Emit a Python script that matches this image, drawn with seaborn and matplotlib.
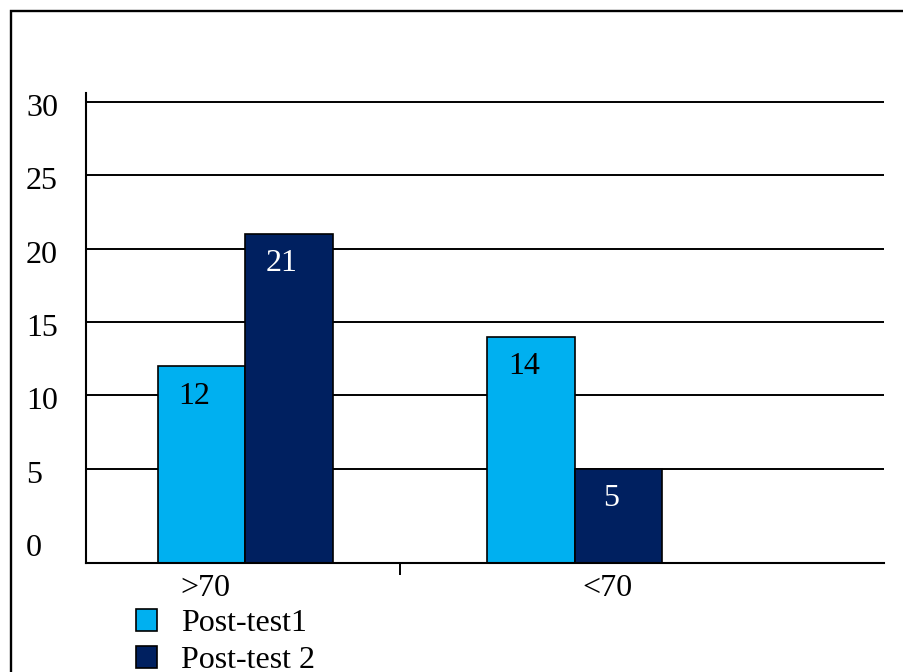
import matplotlib
matplotlib.use("Agg")
import matplotlib.pyplot as plt
from matplotlib.patches import Rectangle
from matplotlib.transforms import ScaledTranslation
import pandas as pd
import seaborn as sns

# Scores by group for the two post-tests
categories = [">70", "<70"]
series = ["Post-test1", "Post-test 2"]
post_test1 = [12, 14]
post_test2 = [21, 5]
y_ticks = [0, 5, 10, 15, 20, 25, 30]

colors = ["#00B0F0", "#002060"]
label_colors = ["black", "white"]

df = pd.DataFrame({
    "group": categories * 2,
    "test": [series[0]] * len(categories) + [series[1]] * len(categories),
    "score": post_test1 + post_test2,
})

sns.set_style("white")
plt.rcParams["font.family"] = ["Liberation Serif", "DejaVu Serif"]
plt.rcParams["font.size"] = 23
plt.rcParams["text.color"] = "black"
plt.rcParams["xtick.color"] = "black"
plt.rcParams["ytick.color"] = "black"
FS = 23

W, H, DPI = 904, 672, 100
fig = plt.figure(figsize=(W / DPI, H / DPI), dpi=DPI)
ax = fig.add_axes([86 / W, 1 - 563 / H, (884 - 86) / W, (563 - 93) / H])

sns.barplot(data=df, x="group", y="score", hue="test", order=categories,
            hue_order=series, palette=colors, saturation=1, width=0.531,
            edgecolor="black", linewidth=1.2, legend=False, ax=ax)

y_bottom = -1.42
ax.set_ylim(y_bottom, 30.6)
ax.set_xlim(-0.4826, 1.939)

# bars rise from the bottom of the plotting area
for bar in ax.patches:
    top = bar.get_y() + bar.get_height()
    bar.set_y(y_bottom)
    bar.set_height(top - y_bottom)

# value labels just inside the top of each bar
for cont, col in zip(ax.containers, label_colors):
    for bar, val in zip(cont.patches, cont.datavalues):
        ax.annotate(f"{val:g}", xy=(bar.get_x() + bar.get_width() / 2, val),
                    xytext=(-7, -30), textcoords="offset pixels",
                    ha="center", va="center", color=col, fontsize=FS)

# horizontal grid
ax.set_yticks(y_ticks)
ax.set_yticklabels([str(v) for v in y_ticks])
ax.yaxis.grid(True, color="black", linewidth=1.4)
ax.xaxis.grid(False)
ax.set_axisbelow(True)
ax.yaxis.get_gridlines()[0].set_visible(False)
ax.tick_params(axis="y", left=False, length=0, pad=43.2, labelsize=FS, labelcolor="black")
for lbl in ax.get_yticklabels():
    lbl.set_ha("left")
    lbl.set_transform(lbl.get_transform() + ScaledTranslation(0, -3 / DPI, fig.dpi_scale_trans))

# category labels and the divider tick between groups
ax.set_xticks([0, 1])
ax.set_xticklabels(categories)
ax.tick_params(axis="x", which="major", length=0, pad=8, labelsize=FS, labelcolor="black")
for lbl, dx in zip(ax.get_xticklabels(), [-40, 33]):
    lbl.set_transform(lbl.get_transform() + ScaledTranslation(dx / DPI, 0, fig.dpi_scale_trans))
ax.set_xticks([0.47], minor=True)
ax.tick_params(axis="x", which="minor", bottom=True, length=8.6, width=1.4,
               color="black", direction="out")

ax.set_xlabel("")
ax.set_ylabel("")

for side in ["top", "right"]:
    ax.spines[side].set_visible(False)
for side in ["left", "bottom"]:
    ax.spines[side].set_color("black")
    ax.spines[side].set_linewidth(1.5)

handles = [Rectangle((0, 0), 1, 1, facecolor=c, edgecolor="black", linewidth=1.2) for c in colors]
ax.legend(handles, series, loc="upper left", bbox_to_anchor=(136 / W, 1 - 609 / H),
          bbox_transform=fig.transFigure, frameon=False, borderpad=0, borderaxespad=0,
          handlelength=0.66, handleheight=0.66, handletextpad=0.75, labelspacing=0.25,
          fontsize=FS)

# outer frame
fig.add_artist(Rectangle((11 / W, -0.5), 2.0, (1 - 11 / H) + 0.5, transform=fig.transFigure,
                         fill=False, edgecolor="black", linewidth=1.7))

fig.savefig("out.png", dpi=DPI, facecolor="white")
